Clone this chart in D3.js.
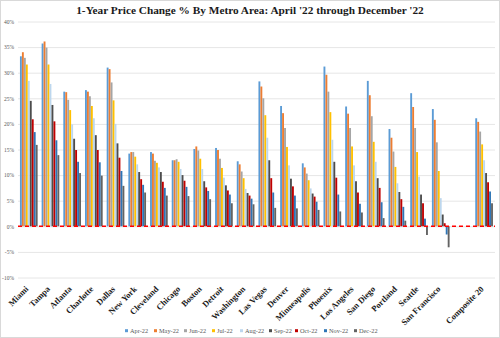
<!DOCTYPE html>
<html><head><meta charset="utf-8">
<script src="https://cdn.jsdelivr.net/npm/d3@7"></script>
<style>body{margin:0;background:#fff}svg{display:block}</style>
</head><body>
<svg id="c" width="500" height="338"></svg>
<script>
const title = "1-Year Price Change % By Metro Area: April '22 through December '22";
const categories = ["Miami","Tampa","Atlanta","Charlotte","Dallas","New York","Cleveland","Chicago","Boston","Detroit","Washington","Las Vegas","Denver","Minneapolis","Phoenix","Los Angeles","San Diego","Portland","Seattle","San Francisco","","Composite 20"];
const seriesNames = ["Apr-22","May-22","Jun-22","Jul-22","Aug-22","Sep-22","Oct-22","Nov-22","Dec-22"];
const seriesColors = ["#5b9bd5","#ed7d31","#a5a5a5","#ffc000","#bdd7ee","#4d4d4d","#c00000","#2e75b6","#636363"];
// values per series, in category order (null = blank gap slot)
const apr22 = [33.2,35.7,26.3,26.6,31.0,14.2,14.5,12.9,15.1,15.3,12.7,28.3,23.5,12.3,31.2,23.4,28.4,19.0,26.0,22.9,null,21.1];
const may22 = [34.0,36.1,26.2,26.3,30.7,14.5,14.2,12.9,15.6,14.9,12.1,27.3,22.1,11.5,29.6,22.0,25.6,17.3,23.3,20.8,null,20.4];
const jun22 = [32.9,34.9,24.7,25.4,28.1,14.5,12.8,13.1,14.8,13.2,10.7,25.0,19.2,10.3,26.3,19.2,21.5,14.6,19.2,16.4,null,18.5];
const jul22 = [31.6,31.6,22.7,23.5,24.6,13.6,12.4,12.6,13.2,11.4,9.4,21.7,15.5,9.0,22.3,15.6,16.5,11.6,14.5,10.8,null,16.0];
const aug22 = [28.4,27.8,19.9,21.1,20.0,12.1,11.5,11.2,11.2,9.5,7.3,17.3,11.9,7.4,16.9,11.9,12.6,8.4,9.7,5.5,null,12.9];
const sep22 = [24.5,23.7,17.1,17.8,16.2,10.6,10.6,10.0,8.8,8.0,6.5,12.9,9.3,6.4,12.6,8.8,9.4,6.7,6.2,2.3,null,10.4];
const oct22 = [20.9,20.5,14.9,14.9,13.4,9.2,8.7,8.9,7.6,7.0,6.0,9.4,7.8,5.8,9.5,6.6,7.5,5.3,4.5,0.6,null,8.6];
const nov22 = [18.4,16.8,12.6,12.5,10.8,8.1,7.5,7.7,6.9,6.2,5.4,6.6,6.0,4.8,6.2,4.4,4.7,3.8,1.5,-1.6,null,6.8];
const dec22 = [15.9,13.9,10.4,9.9,7.9,6.6,6.0,5.9,5.3,4.5,4.3,3.6,3.5,3.2,2.9,2.7,1.6,1.1,-1.7,-4.1,null,4.5];
const seriesValues = [apr22,may22,jun22,jul22,aug22,sep22,oct22,nov22,dec22];
const yTicks = [-10,-5,0,5,10,15,20,25,30,35,40];

const svg = d3.select("#c");
const W = 500, H = 338;
const mLeft = 18, mRight = 495, mTop = 21.5, mBottom = 277.5;

svg.append("rect").attr("x",0.5).attr("y",0.5).attr("width",W-1).attr("height",H-1)
  .attr("fill","#fff").attr("stroke","#d9d9d9");

svg.append("text").attr("x",250).attr("y",14).attr("text-anchor","middle")
  .attr("font-family","Liberation Serif").attr("font-weight","bold").attr("font-size",11.3)
  .attr("fill","#1a1a1a").text(title);

const y = d3.scaleLinear().domain([-10,40]).range([mBottom, mTop]);
const x0 = d3.scaleBand().domain(categories.map((c,i)=>i)).range([mLeft,mRight]).paddingInner(0.18).paddingOuter(0.09);
const x1 = d3.scaleBand().domain(seriesNames).range([0, x0.bandwidth()]);

// grid
const yAxis = d3.axisLeft(y).tickValues(yTicks).tickFormat(d=>d+"%").tickSize(-(mRight-mLeft)).tickPadding(4);
const ga = svg.append("g").attr("transform",`translate(${mLeft},0)`).call(yAxis);
ga.select(".domain").remove();
ga.selectAll(".tick line").attr("stroke","#e6e6e6").attr("stroke-width",1);
ga.selectAll(".tick text").attr("font-family","Liberation Serif").attr("font-size",5.5).attr("fill","#595959");

// bars
const groups = svg.append("g");
seriesNames.forEach((s,si)=>{
  const vals = seriesValues[si];
  groups.append("g").attr("fill",seriesColors[si])
    .selectAll("rect").data(vals.map((v,i)=>({v,i})).filter(d=>d.v!==null))
    .join("rect")
    .attr("x",d=>x0(d.i)+x1(s))
    .attr("width",x1.bandwidth()*0.95)
    .attr("y",d=>y(Math.max(0,d.v)))
    .attr("height",d=>Math.abs(y(d.v)-y(0)));
});

// zero dashed line
svg.append("line").attr("x1",mLeft).attr("x2",mRight).attr("y1",y(0)).attr("y2",y(0))
  .attr("stroke","#ff0000").attr("stroke-width",1.5).attr("stroke-dasharray","4,3");

// x labels
const xAxis = d3.axisBottom(x0).tickSize(0).tickFormat(i=>categories[i]);
const gx = svg.append("g").attr("transform",`translate(0,${mBottom})`).call(xAxis);
gx.select(".domain").remove();
gx.selectAll(".tick text")
  .attr("font-family","Liberation Serif").attr("font-weight","bold").attr("font-size",8.5).attr("fill","#1a1a1a")
  .attr("text-anchor","end").attr("transform","translate(-2,10) rotate(-45)").attr("dy","0.35em").attr("y",0);

// legend
const legX = [125,154,184,212,240,269,295,324,354];
const lg = svg.append("g");
seriesNames.forEach((s,i)=>{
  lg.append("rect").attr("x",legX[i]).attr("y",329.2).attr("width",3).attr("height",3).attr("fill",seriesColors[i]);
  lg.append("text").attr("x",legX[i]+5).attr("y",332.5).attr("font-family","Liberation Serif").attr("font-size",6.3)
    .attr("fill","#595959").text(s);
});
</script>
</body></html>
